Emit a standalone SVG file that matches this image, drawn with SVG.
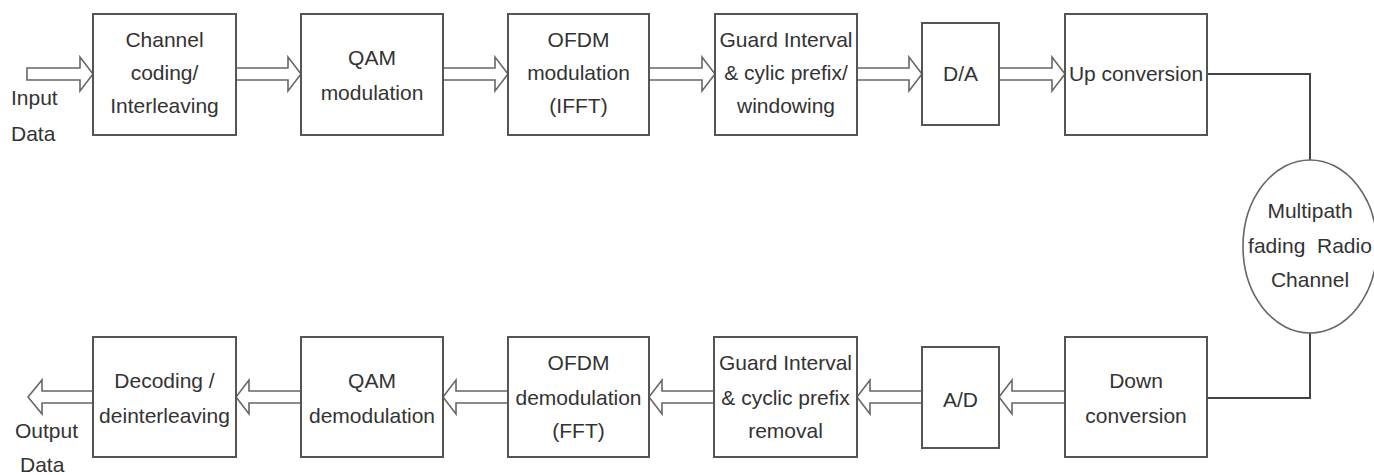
<svg xmlns="http://www.w3.org/2000/svg" width="1374" height="475" viewBox="0 0 1374 475">
<style>
.box{fill:#fff;stroke:#555;stroke-width:2}
.arr{fill:#fff;stroke:#666;stroke-width:1.6;stroke-linejoin:miter}
.line{fill:none;stroke:#444;stroke-width:2}
text{font-family:"Liberation Sans",Arial,sans-serif;font-size:21px;fill:#333;text-anchor:middle}
.l{text-anchor:start}
</style>
<rect width="1374" height="475" fill="#fff"/>
<g id="connectors">
<polygon class="arr" points="27,68 80,68 80,57 93,74 80,91 80,80 27,80"/>
<polygon class="arr" points="236,68 288,68 288,57 301,74 288,91 288,80 236,80"/>
<polygon class="arr" points="443,68 495,68 495,57 508,74 495,91 495,80 443,80"/>
<polygon class="arr" points="649,68 702,68 702,57 715,74 702,91 702,80 649,80"/>
<polygon class="arr" points="857,68 909,68 909,57 922,74 909,91 909,80 857,80"/>
<polygon class="arr" points="999,68 1052,68 1052,57 1065,74 1052,91 1052,80 999,80"/>
<polyline class="line" points="1207,74 1310,74 1310,160"/>
<polyline class="line" points="1310,333 1310,398 1207,398"/>
<polygon class="arr" points="1065,391 1012,391 1012,380 999,397 1012,414 1012,403 1065,403"/>
<polygon class="arr" points="922,391 870,391 870,380 857,397 870,414 870,403 922,403"/>
<polygon class="arr" points="714,391 662,391 662,380 649,397 662,414 662,403 714,403"/>
<polygon class="arr" points="508,391 456,391 456,380 443,397 456,414 456,403 508,403"/>
<polygon class="arr" points="301,391 249,391 249,380 236,397 249,414 249,403 301,403"/>
<polygon class="arr" points="93,391 42,391 42,380 28,397 42,414 42,403 93,403"/>
</g>
<g id="input-label"><text class="l" x="11" y="105">Input</text><text class="l" x="11" y="141">Data</text></g>
<g id="output-label"><text class="l" x="15" y="438">Output</text><text class="l" x="20" y="472">Data</text></g>
<g id="n1"><rect class="box" x="93" y="14" width="143" height="121"/><text x="164.5" y="47">Channel</text><text x="164.5" y="80">coding/</text><text x="164.5" y="113">Interleaving</text></g>
<g id="n2"><rect class="box" x="301" y="14" width="142" height="121"/><text x="372" y="65">QAM</text><text x="372" y="100">modulation</text></g>
<g id="n3"><rect class="box" x="508" y="14" width="141" height="121"/><text x="578.5" y="47">OFDM</text><text x="578.5" y="80">modulation</text><text x="578.5" y="113">(IFFT)</text></g>
<g id="n4"><rect class="box" x="715" y="14" width="142" height="121"/><text x="786" y="47">Guard Interval</text><text x="786" y="80">&amp; cylic prefix/</text><text x="786" y="113">windowing</text></g>
<g id="n5"><rect class="box" x="922" y="23" width="77" height="102"/><text x="960.5" y="81">D/A</text></g>
<g id="n6"><rect class="box" x="1065" y="14" width="142" height="121"/><text x="1136" y="81">Up conversion</text></g>
<g id="n7"><ellipse cx="1310" cy="246.5" rx="67" ry="86.5" fill="#fff" stroke="#666" stroke-width="1.6"/><text x="1310" y="218">Multipath</text><text x="1310" y="253" xml:space="preserve">fading  Radio</text><text x="1310" y="287">Channel</text></g>
<g id="n8"><rect class="box" x="1065" y="337" width="142" height="120"/><text x="1136" y="388">Down</text><text x="1136" y="423">conversion</text></g>
<g id="n9"><rect class="box" x="922" y="347" width="77" height="101"/><text x="960.5" y="407">A/D</text></g>
<g id="n10"><rect class="box" x="714" y="337" width="143" height="120"/><text x="785.5" y="370">Guard Interval</text><text x="785.5" y="405">&amp; cyclic prefix</text><text x="785.5" y="438">removal</text></g>
<g id="n11"><rect class="box" x="508" y="337" width="141" height="120"/><text x="578.5" y="370">OFDM</text><text x="578.5" y="405">demodulation</text><text x="578.5" y="438">(FFT)</text></g>
<g id="n12"><rect class="box" x="301" y="337" width="142" height="120"/><text x="372" y="388">QAM</text><text x="372" y="423">demodulation</text></g>
<g id="n13"><rect class="box" x="93" y="337" width="143" height="120"/><text x="164.5" y="388">Decoding /</text><text x="164.5" y="423">deinterleaving</text></g>
</svg>
